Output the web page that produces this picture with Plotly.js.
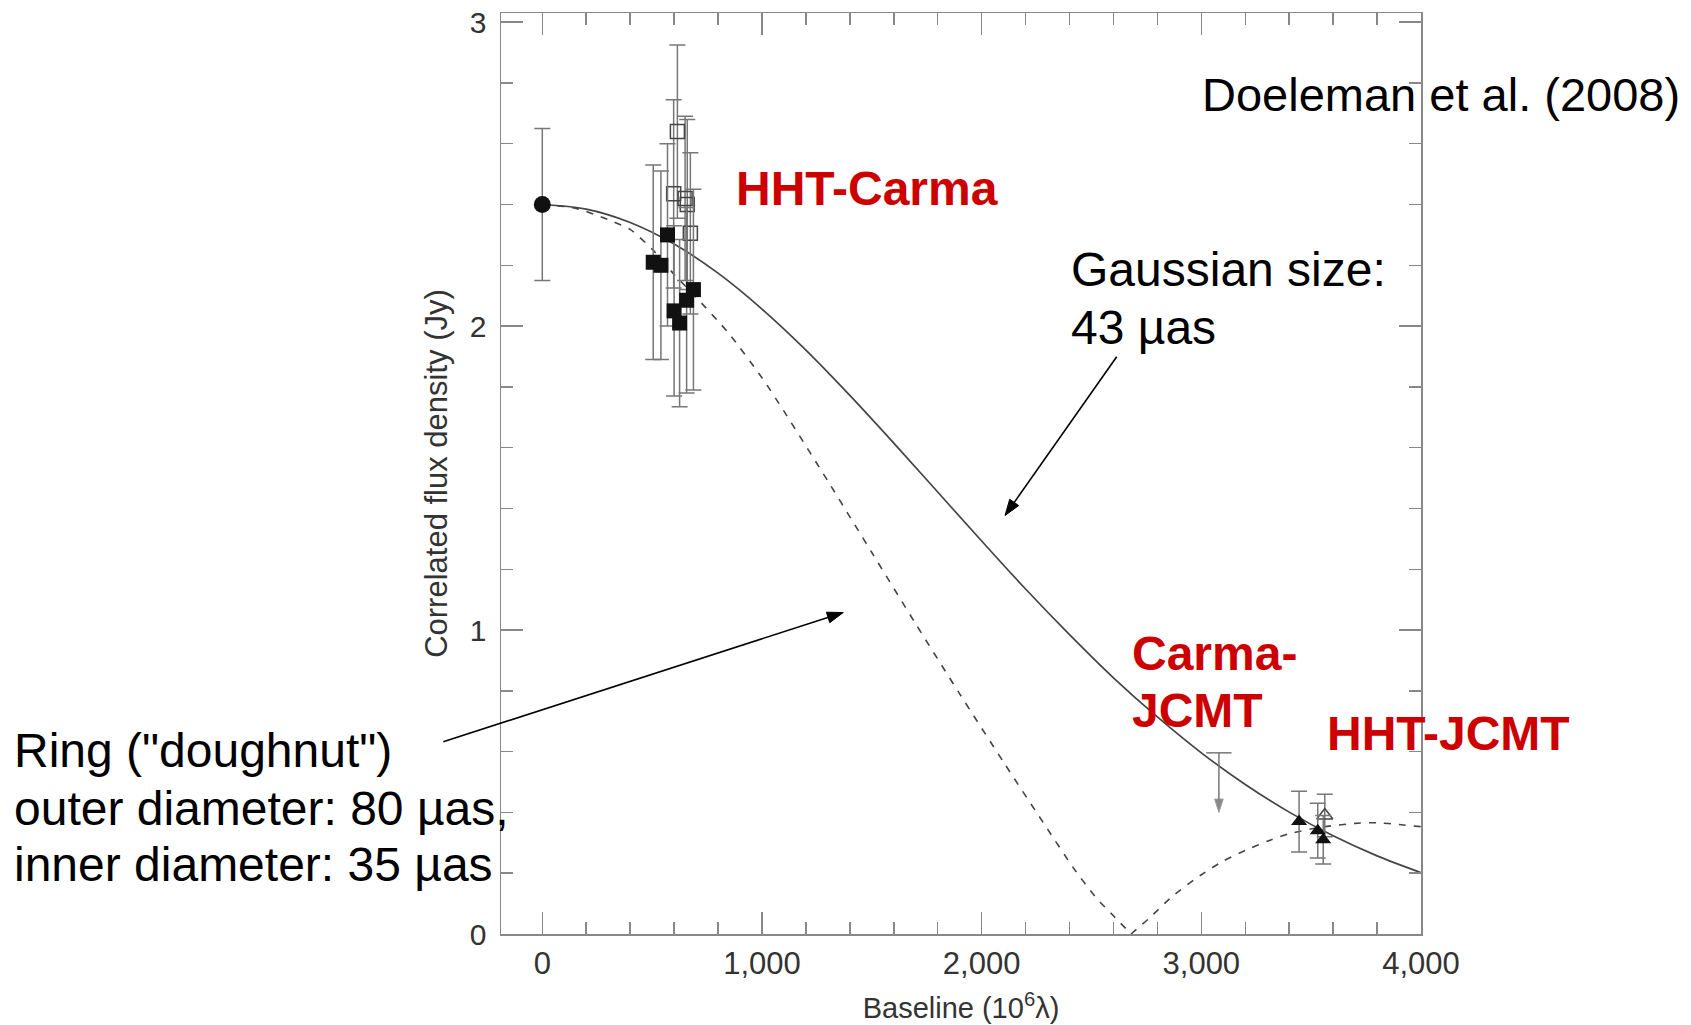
<!DOCTYPE html>
<html><head><meta charset="utf-8">
<script src="https://cdn.plot.ly/plotly-3.0.1.min.js"></script>
<style>html,body{margin:0;padding:0;background:#fff;} #chart{width:1691px;height:1025px;}</style>
</head><body><div id="chart"></div>
<script>
// ---- data ----
const gaussX = [0,200,400,600,800,1000,1200,1400,1600,1800,2000,2200,2400,2600,2800,3000,3200,3400,3600,3800,4000];
const gaussY = [2.400,2.385,2.341,2.270,2.174,2.056,1.921,1.772,1.615,1.454,1.293,1.135,0.985,0.843,0.714,0.596,0.492,0.401,0.323,0.257,0.202];

const ringX1 = [0,150,300,400,500,600,700,850,1000,1100,1300,1500,1700,1900,2100,2300,2420,2520,2600,2680];
const ringY1 = [2.40,2.388,2.35,2.318,2.253,2.17,2.095,1.975,1.83,1.72,1.49,1.255,1.02,0.79,0.565,0.345,0.215,0.12,0.06,0.0];
const ringX2 = [2680,2760,2870,3000,3100,3200,3300,3400,3550,3700,3800,3900,4000];
const ringY2 = [0.0,0.05,0.125,0.195,0.24,0.275,0.305,0.33,0.352,0.364,0.366,0.36,0.353];

const circX = [0];
const circY = [2.40];
const circErr = [0.25];

const sqX = [505,540,570,600,625,657,688];
const sqY = [2.21,2.20,2.30,2.05,2.01,2.085,2.12];
const sqErr = [0.32,0.31,0.30,0.28,0.275,0.305,0.33];

const osX = [615,598,650,660,674];
const osY = [2.64,2.435,2.42,2.40,2.305];
const osErr = [0.285,0.31,0.27,0.28,0.265];

const triX = [3445,3530,3555];
const triY = [0.37,0.34,0.31];
const triErr = [0.10,0.09,0.08];

const otX = [3562];
const otY = [0.39];
const otErr = [0.07];

// upper limit: bar top and arrow tip
const ulX = [3080,3080];
const ulY = [0.596,0.40];

const xTickVals = [0,1000,2000,3000,4000];
const yTickVals = [0,1,2,3];

// ---- layout helpers (pixel -> paper) ----
const L = 501, R = 1421, T = 13, B = 934;
function px(x){ return (x - L) / (R - L); }
function py(y){ return (B - y) / (B - T); }

const FONT = '"Liberation Sans", Arial, Helvetica, sans-serif';
const AX = '#888';
const ERR = {type:'data', visible:true, color:'#777', thickness:1.5, width:8};
const LINE = '#444';

const traces = [
  {x: gaussX, y: gaussY, mode:'lines', line:{color:LINE, width:1.7, shape:'spline', smoothing:1}, hoverinfo:'skip'},
  {x: ringX1, y: ringY1, mode:'lines', line:{color:LINE, width:1.6, dash:'7px,8px', shape:'spline', smoothing:0.6}, hoverinfo:'skip'},
  {x: ringX2, y: ringY2, mode:'lines', line:{color:LINE, width:1.6, dash:'7px,8px', shape:'spline', smoothing:0.6}, hoverinfo:'skip'},
  {x: osX, y: osY, mode:'markers', marker:{symbol:'square-open', size:14, color:'#444', line:{width:1.5}},
   error_y: Object.assign({array: osErr}, ERR)},
  {x: sqX, y: sqY, mode:'markers', marker:{symbol:'square', size:15, color:'#111'},
   error_y: Object.assign({array: sqErr}, ERR)},
  {x: circX, y: circY, mode:'markers', marker:{symbol:'circle', size:17, color:'#111'},
   error_y: Object.assign({array: circErr}, ERR)},
  {x: otX, y: otY, mode:'markers', marker:{symbol:'triangle-up-open', size:14, color:'#444', line:{width:1.5}},
   error_y: Object.assign({array: otErr}, ERR)},
  {x: triX, y: triY, mode:'markers', marker:{symbol:'triangle-up', size:14, color:'#111'},
   error_y: Object.assign({array: triErr}, ERR)},
  {x: ulX, y: ulY, mode:'lines+markers', line:{color:'#777', width:1.5},
   marker:{symbol:'arrow', angleref:'previous', size:[0,14], color:'#555'}, hoverinfo:'skip'},
  {x: [ulX[0]], y: [ulY[0]], mode:'markers', marker:{symbol:'line-ew-open', size:18, color:'#777', line:{width:1.5, color:'#777'}}, hoverinfo:'skip'}
];

function txt(text, x, y, size, color, bold){
  return {text: bold ? '<b>'+text+'</b>' : text, xref:'paper', yref:'paper', x: px(x), y: py(y),
    xanchor:'left', yanchor:'middle', showarrow:false,
    font:{family: FONT, size: size, color: color}};
}
// black pointer arrows drawn as shapes (line + filled head)
function arrowShapes(hx, hy, tx, ty){
  const dx = hx - tx, dy = hy - ty, len = Math.hypot(dx, dy);
  const ux = dx/len, uy = dy/len, nx = -uy, ny = ux;
  const hl = 16, hw = 5.5;
  const bx = hx - hl*ux, by = hy - hl*uy;
  return [
    {type:'line', xref:'paper', yref:'paper', x0: px(tx), y0: py(ty), x1: px(bx + 3*ux), y1: py(by + 3*uy),
     line:{color:'#000', width:1.6}, layer:'above'},
    {type:'path', xref:'paper', yref:'paper', layer:'above', fillcolor:'#000', line:{color:'#000', width:1},
     path: 'M' + px(hx) + ',' + py(hy) +
           ' L' + px(bx + hw*nx) + ',' + py(by + hw*ny) +
           ' L' + px(bx - hw*nx) + ',' + py(by - hw*ny) + ' Z'}
  ];
}

const annotations = [
  txt('Doeleman et al. (2008)', 1200, 94, 47, '#000', false),
  txt('HHT-Carma', 734, 189, 48, '#cc0000', true),
  txt('Gaussian size:', 1069, 269, 48, '#000', false),
  txt('43 µas', 1069, 327, 48, '#000', false),
  txt('Ring ("doughnut")', 12, 750, 48, '#000', false),
  txt('outer diameter: 80 µas,', 12, 808, 48, '#000', false),
  txt('inner diameter: 35 µas', 12, 864, 48, '#000', false),
  txt('Carma-', 1130, 653, 48, '#cc0000', true),
  txt('JCMT', 1130, 710, 48, '#cc0000', true),
  txt('HHT-JCMT', 1325, 733, 48, '#cc0000', true)
];

const shapes = [].concat(
  arrowShapes(1005, 515.5, 1116.7, 356.7),
  arrowShapes(843.3, 612.5, 443.3, 741.7)
);

const axisCommon = {
  ticks:'inside', ticklen:22, tickwidth:1.5, tickcolor:AX,
  showline:true, linecolor:AX, linewidth:1.5, mirror:'ticks',
  showgrid:false, zeroline:false
};

const layout = {
  width:1691, height:1025,
  margin:{l:L, r:1691-R, t:T, b:1025-B, pad:0},
  paper_bgcolor:'#fff', plot_bgcolor:'#fff',
  showlegend:false,
  font:{family: FONT, color:'#333'},
  xaxis: Object.assign({}, axisCommon, {
    range:[-188, 4000], tickmode:'array', tickvals:xTickVals, tickformat:',d',
    tickfont:{family: FONT, size:31, color:'#333'}, ticklabelstandoff: 1,
    minor:{dtick:200, tick0:0, ticks:'inside', ticklen:12, tickwidth:1.5, tickcolor:AX, showgrid:false},
    title:{text:'Baseline (10<sup>6</sup>λ)', font:{family: FONT, size:29, color:'#333'}, standoff:18}
  }),
  yaxis: Object.assign({}, axisCommon, {
    range:[0, 3.03], tickmode:'array', tickvals:yTickVals,
    tickfont:{family: FONT, size:30, color:'#333'}, ticklabelstandoff: 7,
    minor:{dtick:0.2, tick0:0, ticks:'inside', ticklen:12, tickwidth:1.5, tickcolor:AX, showgrid:false},
    title:{text:'Correlated flux density (Jy)', font:{family: FONT, size:31, color:'#333'}, standoff:13}
  }),
  annotations: annotations,
  shapes: shapes
};

Plotly.newPlot('chart', traces, layout, {staticPlot:true, displayModeBar:false});
</script>
</body></html>
